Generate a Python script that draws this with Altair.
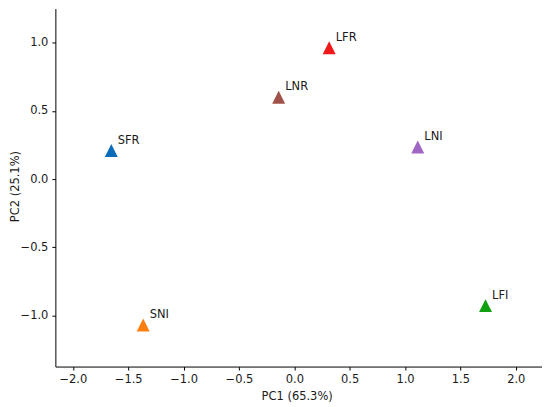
import altair as alt
import pandas as pd

names = ["SFR", "SNI", "LFR", "LNR", "LNI", "LFI"]
pc1 = [-1.653, -1.365, 0.315, -0.141, 1.115, 1.727]
pc2 = [0.209, -1.070, 0.963, 0.600, 0.236, -0.928]
colors = ["#0a6cb8", "#ff7f0e", "#f01818", "#a0524a", "#a066c4", "#12a012"]

x_ticks = [-2.0, -1.5, -1.0, -0.5, 0.0, 0.5, 1.0, 1.5, 2.0]
y_ticks = [-1.0, -0.5, 0.0, 0.5, 1.0]
x_domain = [-2.158, 2.237]
y_domain = [-1.375, 1.2506]

df = pd.DataFrame({"name": names, "pc1": pc1, "pc2": pc2, "color": colors})

W, H = 488, 359
FONT = "DejaVu Sans"
FS = 11.5

x_enc = alt.X(
    "pc1:Q",
    scale=alt.Scale(domain=x_domain, nice=False, zero=False),
    axis=alt.Axis(
        values=x_ticks, format=".1f", title="PC1 (65.3%)", grid=False,
        tickSize=3.5, labelPadding=3, labelOverlap=False, labelFlush=False,
        labelBound=False, titleX=242, titleY=30, titleBaseline="middle",
        titleAlign="center",
    ),
)
y_enc = alt.Y(
    "pc2:Q",
    scale=alt.Scale(domain=y_domain, nice=False, zero=False),
    axis=alt.Axis(
        values=y_ticks, format=".1f", title="PC2 (25.1%)", grid=False,
        tickSize=3.5, labelPadding=4, labelOverlap=False, labelFlush=False,
        labelBound=False, titleX=-40, titleY=178, titleBaseline="middle",
        titleAlign="center", titleAngle=270,
    ),
)

points = alt.Chart(df).mark_point(
    shape="M0,-1L1,1L-1,1Z", filled=True, size=169, opacity=1, strokeWidth=0
).encode(
    x=x_enc, y=y_enc,
    color=alt.Color("color:N", scale=None),
)

labels = alt.Chart(df).mark_text(
    align="left", baseline="alphabetic", dx=6.5, dy=-7,
    font=FONT, fontSize=FS, color="#1a1a1a",
).encode(x="pc1:Q", y="pc2:Q", text="name:N")

chart = (
    alt.layer(points, labels)
    .properties(
        width=W, height=H,
        autosize=alt.AutoSizeParams(type="none"),
        padding={"left": 47.5, "top": 0, "right": 0, "bottom": 45},
    )
    .configure_view(stroke=None)
    .configure_axis(
        domainColor="black", tickColor="black", domainWidth=1, tickWidth=1,
        labelFont=FONT, labelFontSize=FS, labelColor="#1a1a1a",
        titleFont=FONT, titleFontSize=FS, titleFontWeight="normal",
        titleColor="#1a1a1a",
    )
)

chart.save("out.html", embed_options={"renderer": "svg", "actions": False})
